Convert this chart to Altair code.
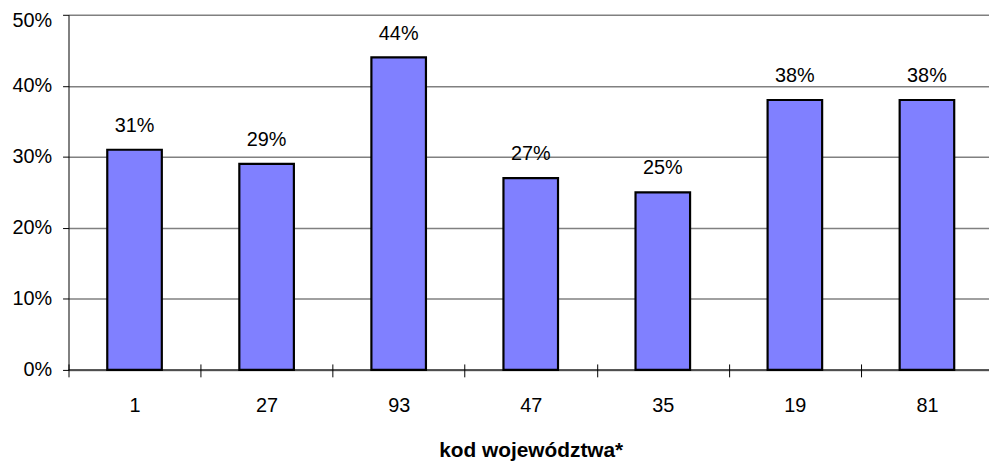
import altair as alt
import pandas as pd

codes = ["1", "27", "93", "47", "35", "19", "81"]
pct = [31, 29, 44, 27, 25, 38, 38]
y_ticks = [0, 10, 20, 30, 40, 50]

df = pd.DataFrame({"kod": codes, "val": [p / 100 for p in pct]})

FONT = "Liberation Sans"
W, H = 928, 358

x_enc = alt.X(
    "kod:N",
    sort=codes,
    scale=alt.Scale(range=[0, 932], paddingInner=0, paddingOuter=0),
    axis=alt.Axis(
        title="kod województwa*",
        titleFont=FONT,
        titleFontSize=21,
        titleFontWeight="bold",
        titleColor="black",
        titleBaseline="alphabetic",
        titleY=93,
        labelAngle=0,
        labelFont=FONT,
        labelFontSize=20,
        labelColor="black",
        labelBaseline="alphabetic",
        labelPadding=35,
        tickBand="extent",
        tickSize=13,
        tickColor="black",
        tickWidth=1,
        offset=-6,
        domain=False,
        grid=False,
    ),
)

y_enc = alt.Y(
    "val:Q",
    scale=alt.Scale(domain=[0, 0.5], nice=False),
    axis=alt.Axis(
        title=None,
        values=[v / 100 for v in y_ticks],
        format=".0%",
        labelFont=FONT,
        labelFontSize=20,
        labelColor="black",
        labelPadding=11,
        labelOffset={"condition": {"test": "datum.value >= 0.45", "value": 6}, "value": 0},
        tickSize=6,
        tickColor="black",
        domainColor="black",
        domainWidth=1,
        grid=True,
        gridColor="#808080",
        gridWidth=1.5,
    ),
)

bars = alt.Chart(df).mark_bar(
    size=55, fill="#8080FF", stroke="black", strokeWidth=2.2
).encode(x=x_enc, y=y_enc)

labels = alt.Chart(df).mark_text(
    font=FONT, fontSize=20, color="black", baseline="alphabetic", dy=-18
).encode(
    x=alt.X("kod:N", sort=codes),
    y=alt.Y("val:Q"),
    text=alt.Text("val:Q", format=".0%"),
)

baseline = alt.Chart(pd.DataFrame({"v": [0]})).mark_rule(
    color="black", strokeWidth=1
).encode(y=alt.Y("v:Q"), x=alt.value(0), x2=alt.value(W))

chart = (
    alt.layer(bars, baseline, labels)
    .properties(
        width=W,
        height=H,
        autosize=alt.AutoSizeParams(type="none"),
        padding={"left": 61, "top": 5, "right": 0, "bottom": 92},
    )
    .configure_view(strokeWidth=0)
)

chart.save("out.html", embed_options={"renderer": "svg", "actions": False})
